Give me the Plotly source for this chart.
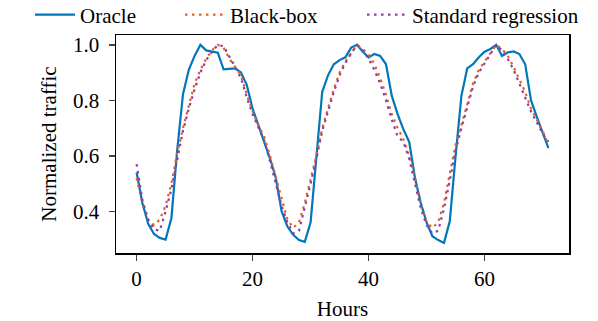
import plotly.graph_objects as go

hours = list(range(72))

oracle = [0.54, 0.43, 0.355, 0.318, 0.304, 0.298, 0.375, 0.62, 0.822, 0.91,
          0.96, 1.0, 0.98, 0.975, 0.972, 0.912, 0.913, 0.915, 0.90, 0.855,
          0.77, 0.71, 0.65, 0.59, 0.52, 0.40, 0.345, 0.315, 0.296, 0.29,
          0.36, 0.60, 0.83, 0.89, 0.93, 0.945, 0.955, 0.99, 1.0, 0.975,
          0.955, 0.967, 0.96, 0.93, 0.816, 0.75, 0.695, 0.65, 0.52, 0.43,
          0.36, 0.31, 0.296, 0.286, 0.365, 0.60, 0.816, 0.915, 0.93, 0.955,
          0.975, 0.985, 1.0, 0.96, 0.973, 0.976, 0.967, 0.93, 0.80, 0.74,
          0.68, 0.628]

black_box = [0.52, 0.43, 0.37, 0.35, 0.37, 0.42, 0.50, 0.61, 0.70, 0.78,
             0.86, 0.91, 0.95, 0.98, 1.00, 0.99, 0.95, 0.92, 0.89, 0.82,
             0.76, 0.71, 0.67, 0.60, 0.52, 0.44, 0.37, 0.34, 0.36, 0.43,
             0.51, 0.60, 0.70, 0.77, 0.84, 0.90, 0.94, 0.97, 1.00, 0.985,
             0.965, 0.93, 0.88, 0.82, 0.75, 0.70, 0.66, 0.60, 0.52, 0.42,
             0.36, 0.34, 0.36, 0.43, 0.53, 0.64, 0.71, 0.79, 0.86, 0.91,
             0.94, 0.97, 1.00, 0.985, 0.96, 0.92, 0.875, 0.83, 0.77, 0.73,
             0.69, 0.64]

standard_regression = [0.57, 0.44, 0.37, 0.335, 0.33, 0.40, 0.48, 0.59, 0.69, 0.77,
                       0.84, 0.90, 0.945, 0.975, 1.0, 0.995, 0.96, 0.92, 0.88, 0.81,
                       0.75, 0.70, 0.655, 0.58, 0.50, 0.42, 0.36, 0.32, 0.33, 0.41,
                       0.50, 0.59, 0.69, 0.76, 0.83, 0.89, 0.935, 0.97, 1.0, 0.98,
                       0.95, 0.91, 0.86, 0.80, 0.73, 0.67, 0.65, 0.59, 0.50, 0.41,
                       0.35, 0.32, 0.33, 0.41, 0.51, 0.62, 0.70, 0.78, 0.85, 0.90,
                       0.935, 0.965, 1.0, 0.98, 0.95, 0.91, 0.86, 0.81, 0.76, 0.72,
                       0.68, 0.65]

x_ticks = [0, 20, 40, 60]
y_ticks = [0.4, 0.6, 0.8, 1.0]
y_tick_labels = ["0.4", "0.6", "0.8", "1.0"]

FAMILY = "Liberation Serif"
FS = 21
DOT = "2.5px,4.5px"
F = dict(family=FAMILY, size=FS, color="black")

fig = go.Figure()
fig.add_trace(go.Scatter(x=hours, y=oracle, mode="lines", name="Oracle",
                         line=dict(color="#0077BB", width=2.2), legend="legend"))
fig.add_trace(go.Scatter(x=hours, y=black_box, mode="lines", name="Black-box",
                         line=dict(color="#E8601C", width=2.2, dash=DOT),
                         legend="legend2"))
fig.add_trace(go.Scatter(x=hours, y=standard_regression, mode="lines",
                         name="Standard regression",
                         line=dict(color="#8C3FA5", width=2.2, dash=DOT),
                         legend="legend3"))

W, H = 598, 321
L, R, T, B = 116, 29, 35, 68
pw = W - L - R
ph = H - T - B


def leg(px):
    return dict(x=(px - L) / pw, xanchor="left",
                y=1 + (T - 15) / ph, yanchor="middle", yref="paper", font=F,
                bgcolor="rgba(0,0,0,0)", orientation="h", itemwidth=40)


fig.update_layout(
    width=W, height=H,
    margin=dict(l=L, r=R, t=T, b=B, autoexpand=False),
    paper_bgcolor="white", plot_bgcolor="white",
    font=F,
    showlegend=True,
    hovermode=False,
    legend=leg(30), legend2=leg(180), legend3=leg(362),
    xaxis=dict(range=[-3.55, 74.55], tickvals=x_ticks, ticks="outside",
               ticklen=6, tickwidth=1.5, showline=True, linewidth=1.5,
               linecolor="black", mirror=True, showgrid=False, zeroline=False,
               automargin=False,
               title=dict(text="Hours", standoff=13, font=F),
               tickfont=F),
    yaxis=dict(range=[0.2495, 1.0355], tickvals=y_ticks, ticktext=y_tick_labels,
               ticks="outside", ticklen=6, tickwidth=1.5, showline=True,
               linewidth=1.5, linecolor="black", mirror=True, showgrid=False,
               zeroline=False, automargin=False, ticklabelstandoff=5,
               title=dict(text="Normalized traffic", standoff=10, font=F),
               tickfont=F),
)

fig.write_html("out.html",
               config={"displayModeBar": False, "staticPlot": True},
               post_script="document.body.style.margin='0';")
